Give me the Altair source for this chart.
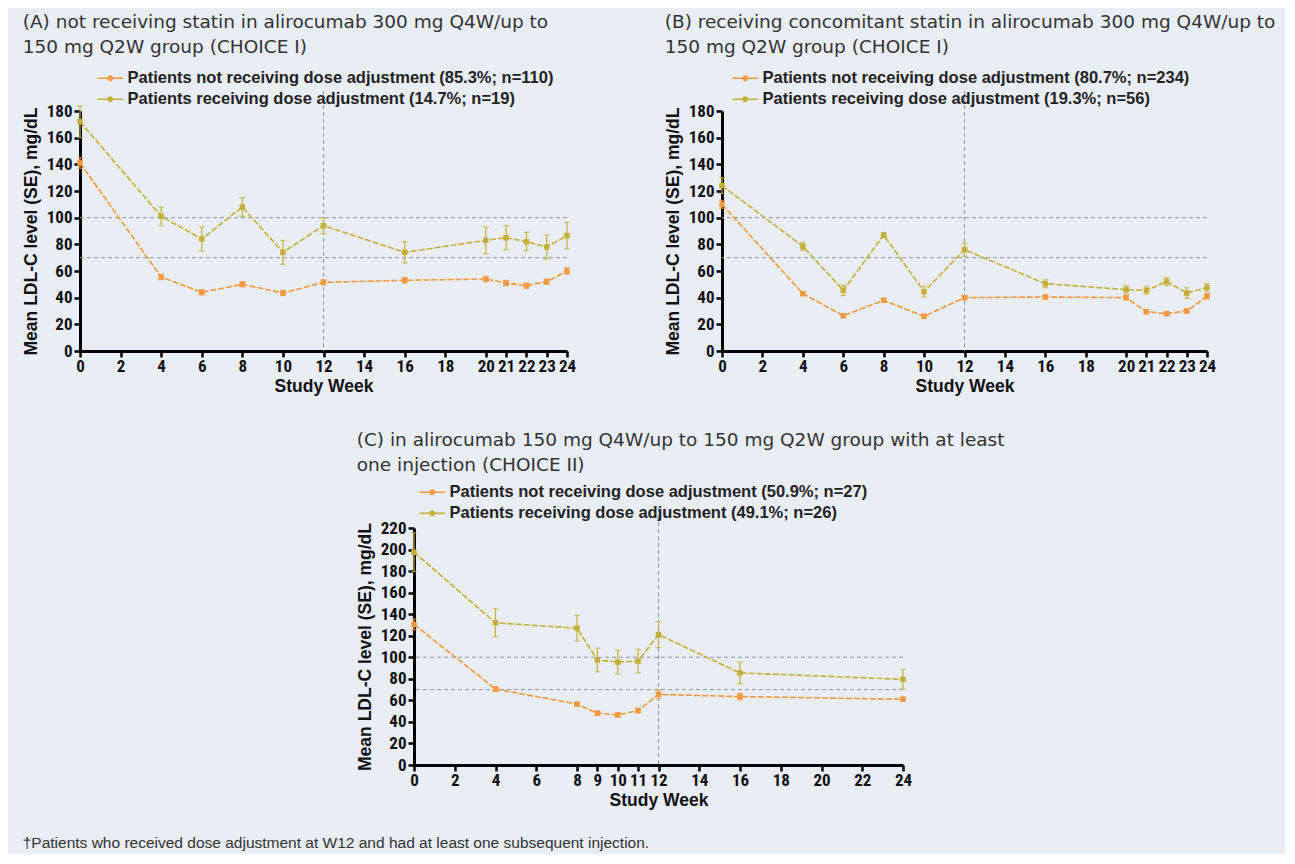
import altair as alt
import pandas as pd

ORANGE = "#F39A42"
OLIVE = "#C4B03A"
REFCOL = "#8E95A5"
BG = "#E9EDF6"
NARROW = "Liberation Sans Narrow, Arial Narrow, Roboto Condensed, sans-serif"
BOLDF = "Liberation Sans, Arial, sans-serif"
TFONT = "DejaVu Sans, Verdana, sans-serif"

# ---- data ----
weeks_ab = [0, 4, 6, 8, 10, 12, 16, 20, 21, 22, 23, 24]
weeks_c = [0, 4, 8, 9, 10, 11, 12, 16, 24]

xticks_ab = [0, 2, 4, 6, 8, 10, 12, 14, 16, 18, 20, 21, 22, 23, 24]
xticks_c = [0, 2, 4, 6, 8, 9, 10, 11, 12, 14, 16, 18, 20, 22, 24]

a_not_lab = "Patients not receiving dose adjustment (85.3%; n=110)"
a_adj_lab = "Patients receiving dose adjustment (14.7%; n=19)"
a_not = [141, 55.5, 44, 50, 43.5, 51.5, 53, 54, 51, 49, 52, 60]
a_not_se = [4, 2, 2, 2, 2, 2, 2, 2, 2, 2, 2, 2.5]
a_adj = [172, 101, 84, 108, 74, 94, 74, 83, 85, 82, 78, 86.5]
a_adj_se = [12, 7, 9, 7, 9, 6, 8, 10, 9, 7, 9, 10]

b_not_lab = "Patients not receiving dose adjustment (80.7%; n=234)"
b_adj_lab = "Patients receiving dose adjustment (19.3%; n=56)"
b_not = [110, 43, 26.5, 38, 26, 40, 40.5, 40, 29.5, 28, 30, 41]
b_not_se = [3, 1.5, 1.5, 1.5, 1.5, 1.5, 1.5, 1.5, 1.5, 1.5, 1.5, 2]
b_adj = [124, 78.5, 45.5, 87, 44.5, 76, 50.5, 46, 45.5, 52, 43.5, 47.5]
b_adj_se = [6, 3, 4, 2, 4, 5, 3, 3, 3, 3, 4, 3]

c_not_lab = "Patients not receiving dose adjustment (50.9%; n=27)"
c_adj_lab = "Patients receiving dose adjustment (49.1%; n=26)"
c_not = [130.5, 70.5, 56.5, 48, 46.5, 50.5, 65.5, 63.5, 61]
c_not_se = [5, 2, 2, 2, 2, 2, 4, 3, 2]
c_adj = [197.5, 132, 127, 97.5, 95.5, 96.5, 121, 85.5, 79.5]
c_adj_se = [18, 13, 12, 11, 11, 11, 12, 10, 9]

ref_levels = [100, 70]
week_marker = [12]

title_a = ["(A) not receiving statin in alirocumab 300 mg Q4W/up to",
           "150 mg Q2W group (CHOICE I)"]
title_b = ["(B) receiving concomitant statin in alirocumab 300 mg Q4W/up to",
           "150 mg Q2W group (CHOICE I)"]
title_c = ["(C) in alirocumab 150 mg Q4W/up to 150 mg Q2W group with at least",
           "one injection (CHOICE II)"]
footnote = "\u2020Patients who received dose adjustment at W12 and had at least one subsequent injection."

# legend symbol: short line with a dot in the middle
SYMBOL = ("M-1.6,-0.08L1.6,-0.08L1.6,0.08L-1.6,0.08Z "
          "M0.36,0A0.36,0.36 0 1,1 -0.36,0A0.36,0.36 0 1,1 0.36,0Z")


def panel(title, weeks, nl, nv, ns, al, av, ase, ymax, xticks, w, h,
          leg_x, leg_y, title_off):
    rows = []
    for lab, vals, ses in [(nl, nv, ns), (al, av, ase)]:
        for wk, v, s in zip(weeks, vals, ses):
            rows.append(dict(week=wk, value=v, lo=v - s, hi=v + s, series=lab))
    df = pd.DataFrame(rows)

    xaxis = alt.Axis(values=xticks, title="Study Week", labelOverlap=False,
                     labelFlush=False, titlePadding=3, labelPadding=1)
    yaxis = alt.Axis(values=list(range(0, ymax + 1, 20)),
                     title="Mean LDL-C level (SE), mg/dL", labelPadding=2,
                     titlePadding=5.5)
    xsc = alt.Scale(domain=[0, 24], nice=False, zero=False)
    ysc = alt.Scale(domain=[0, ymax], nice=False)

    def X(f="week"):
        return alt.X(f + ":Q", scale=xsc, axis=xaxis)

    def Y(f):
        return alt.Y(f + ":Q", scale=ysc, axis=yaxis)

    cscale = alt.Scale(domain=[nl, al], range=[ORANGE, OLIVE])
    leg = alt.Legend(
        orient="none", legendX=leg_x, legendY=leg_y, title=None,
        symbolType=SYMBOL, symbolSize=256, symbolStrokeWidth=0,
        labelFont=BOLDF, labelFontSize=16.5, labelFontWeight="bold",
        labelColor="#222", labelOffset=9, rowPadding=4, padding=0,
        labelLimit=700)

    def C():
        return alt.Color("series:N", scale=cscale, legend=leg)

    base = alt.Chart(df)

    hrefs = alt.Chart(pd.DataFrame({"value": ref_levels})).mark_rule(
        color=REFCOL, strokeDash=[4, 3], strokeWidth=1).encode(y=Y("value"))
    vref = alt.Chart(pd.DataFrame({"week": week_marker})).mark_rule(
        color=REFCOL, strokeDash=[4, 3], strokeWidth=1).encode(
        x=X(), y=alt.value(-20), y2=alt.value(h))

    pts = base.mark_point(shape="square", filled=True, size=30, opacity=1).encode(
        x=X(), y=Y("value"), color=C())
    lines = base.mark_line(strokeWidth=1.6, strokeDash=[6, 2]).encode(
        x=X(), y=Y("value"), color=C(), detail="series:N")
    err = base.mark_rule(strokeWidth=1.2).encode(
        x=X(), y=Y("lo"), y2="hi:Q", color=C())
    cap_lo = base.mark_tick(orient="horizontal", size=6, thickness=1.2).encode(
        x=X(), y=Y("lo"), color=C())
    cap_hi = base.mark_tick(orient="horizontal", size=6, thickness=1.2).encode(
        x=X(), y=Y("hi"), color=C())

    return alt.layer(hrefs, vref, pts, lines, err, cap_lo, cap_hi).properties(
        width=w, height=h,
        title=alt.TitleParams(text=title, anchor="start", frame="bounds",
                              font=TFONT, fontSize=18.5, fontWeight="normal",
                              color="#333", lineHeight=25, offset=title_off))


pa = panel(title_a, weeks_ab, a_not_lab, a_not, a_not_se, a_adj_lab, a_adj,
           a_adj_se, 180, xticks_ab, 487, 240, 22, -41, 14)
pb = panel(title_b, weeks_ab, b_not_lab, b_not, b_not_se, b_adj_lab, b_adj,
           b_adj_se, 180, xticks_ab, 485, 240, 15, -41, 14)
pc = panel(title_c, weeks_c, c_not_lab, c_not, c_not_se, c_adj_lab, c_adj,
           c_adj_se, 220, xticks_c, 489, 237, 10, -44, 10)

spacer = alt.Chart(pd.DataFrame({"week": [0]})).mark_point(opacity=0).encode(
    x=alt.X("week:Q", axis=None), y=alt.Y("week:Q", axis=None)
).properties(width=276, height=10)

top = alt.hconcat(pa, pb, spacing=88).resolve_scale(color="independent")
bottom = alt.hconcat(spacer, pc, spacing=0).resolve_scale(color="independent")

chart = alt.vconcat(top, bottom, spacing=35).resolve_scale(
    color="independent"
).properties(
    padding={"left": 14, "top": 4, "right": 9, "bottom": 3},
    title=alt.TitleParams(text=footnote, orient="bottom", anchor="start",
                          frame="bounds", font=BOLDF, fontSize=15.5,
                          fontWeight="normal", color="#333", offset=27)
).configure(background=BG).configure_view(stroke=None).configure_axis(
    grid=False, domainColor="black", domainWidth=3, tickColor="black",
    tickWidth=2.5, tickSize=6, labelFont=NARROW, labelFontSize=17,
    labelFontWeight="bold", labelColor="#111", titleFont=BOLDF,
    titleFontSize=17.5, titleFontWeight="bold", titleColor="#111"
)

chart.save("out.html", embed_options={"renderer": "svg", "actions": False})
